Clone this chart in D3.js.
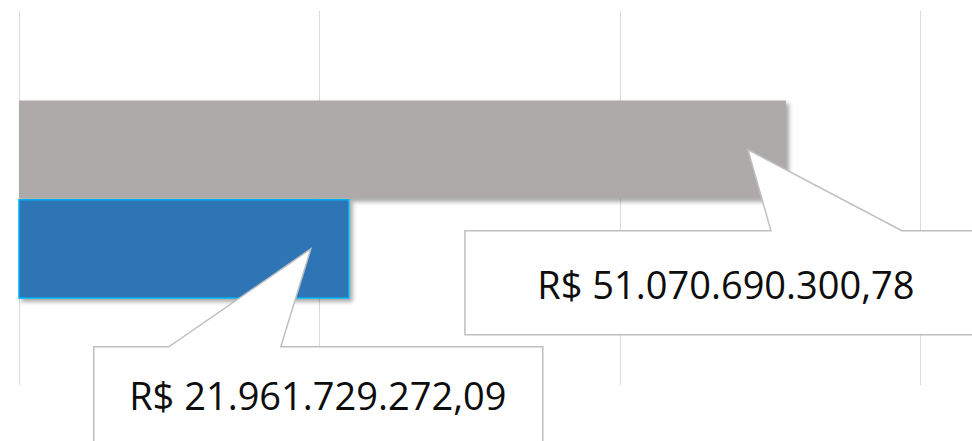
<!DOCTYPE html>
<html>
<head>
<meta charset="utf-8">
<script src="https://cdn.jsdelivr.net/npm/d3@7"></script>
<style>
  html, body { margin: 0; padding: 0; background: #fff; }
  #chart { width: 972px; height: 441px; }
</style>
</head>
<body>
<div id="chart"></div>
<script>
// data
const categories = ["Série A", "Série B"];
const values = [51070690300.78, 21961729272.09];
const labels = ["R$ 51.070.690.300,78", "R$ 21.961.729.272,09"];
const xTicks = [0, 20e9, 40e9, 60e9];

const theme = {
  grid: "#D9D9D9",
  bars: ["#AEAAAA", "#2E75B6"],
  strokes: ["none", "#00B0F0"],
  callout: "#BFBFBF",
  text: "#0d0d0d",
};

// callout box placement relative to the pointer tip
const callouts = [
  { dx: -283, dy: 81, w: 530, h: 104, base: [23, 154], tx: 261, ty: 68 },
  { dx: -217, dy: 98, w: 449, h: 110, base: [-142, -30], tx: 224, ty: 63 },
];

const width = 972;
const height = 441;
const margin = { left: 19, right: 52, top: 11, bottom: 56 };

const svg = d3.select("#chart")
  .append("svg")
  .attr("width", width)
  .attr("height", height);

const defs = svg.append("defs");
const shadow = defs.append("filter")
  .attr("id", "shadow")
  .attr("x", "-10%").attr("y", "-10%")
  .attr("width", "130%").attr("height", "140%");
shadow.append("feDropShadow")
  .attr("dx", 3).attr("dy", 3)
  .attr("stdDeviation", 2)
  .attr("flood-color", "#000")
  .attr("flood-opacity", 0.35);

const xScale = d3.scaleLinear()
  .domain([0, 60e9])
  .range([margin.left, width - margin.right]);

const yScale = d3.scaleBand()
  .domain(categories)
  .range([100.5, 298])
  .paddingInner(0.01);

// gridlines
svg.append("g")
  .selectAll("line")
  .data(xTicks)
  .enter()
  .append("line")
  .attr("x1", (d) => Math.round(xScale(d)) + 0.5)
  .attr("x2", (d) => Math.round(xScale(d)) + 0.5)
  .attr("y1", margin.top)
  .attr("y2", height - margin.bottom)
  .attr("stroke", theme.grid)
  .attr("stroke-width", 1);

// bars
svg.append("g")
  .selectAll("rect")
  .data(values)
  .enter()
  .append("rect")
  .attr("x", xScale(0))
  .attr("y", (d, i) => yScale(categories[i]))
  .attr("width", (d) => xScale(d) - xScale(0))
  .attr("height", yScale.bandwidth())
  .attr("fill", (d, i) => theme.bars[i])
  .attr("stroke", (d, i) => theme.strokes[i])
  .attr("stroke-width", 1.5)
  .attr("filter", "url(#shadow)");

// callout labels
const tipX = (d) => xScale(d) - 38;
const tipY = (i) => yScale(categories[i]) + yScale.bandwidth() / 2;

const calloutPath = (d, i) => {
  const c = callouts[i];
  const tx = tipX(d);
  const ty = tipY(i);
  const left = tx + c.dx;
  const top = ty + c.dy;
  const p = d3.path();
  p.moveTo(left, top);
  p.lineTo(tx + c.base[0], top);
  p.lineTo(tx, ty);
  p.lineTo(tx + c.base[1], top);
  p.lineTo(left + c.w, top);
  p.lineTo(left + c.w, top + c.h);
  p.lineTo(left, top + c.h);
  p.closePath();
  return p.toString();
};

const labelGroup = svg.append("g");

labelGroup.selectAll("path")
  .data(values)
  .enter()
  .append("path")
  .attr("d", calloutPath)
  .attr("fill", "#fff")
  .attr("stroke", theme.callout)
  .attr("stroke-width", 1.5);

labelGroup.selectAll("text")
  .data(values)
  .enter()
  .append("text")
  .attr("x", (d, i) => tipX(d) + callouts[i].dx + callouts[i].tx)
  .attr("y", (d, i) => tipY(i) + callouts[i].dy + callouts[i].ty)
  .attr("text-anchor", "middle")
  .attr("font-family", "'Open Sans', sans-serif")
  .attr("font-size", 38)
  .attr("fill", theme.text)
  .text((d, i) => labels[i]);
</script>
</body>
</html>
